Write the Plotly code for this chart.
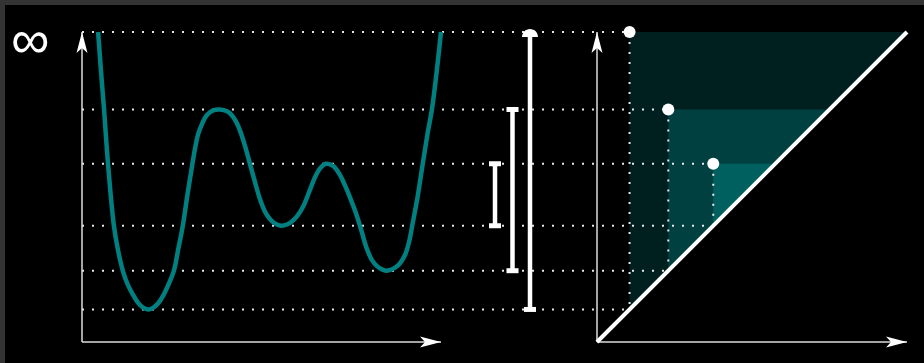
import plotly.graph_objects as go

# ---------------------------------------------------------------
# Height function f(t), sampled along its graph
curve_t = [0.52, 0.61, 0.71, 0.84, 1.03, 1.16, 1.32, 1.48, 1.65, 1.81,
           1.97, 2.13, 2.29, 2.45, 2.61, 2.77, 2.97, 3.10, 3.25, 3.40, 3.56,
           3.65, 3.74, 3.87, 4.03, 4.23, 4.45, 4.68, 4.84, 4.97, 5.10, 5.26,
           5.42, 5.58, 5.74, 5.90, 6.06, 6.23, 6.42, 6.61, 6.77, 6.94, 7.13,
           7.35, 7.52, 7.68, 7.87, 8.10, 8.32, 8.48, 8.65, 8.81, 8.97, 9.18,
           9.35, 9.52, 9.81, 10.16, 10.42, 10.55, 10.65, 10.82, 10.99, 11.14,
           11.29, 11.44, 11.58]
curve_f = [10.0, 8.77, 7.52, 5.74, 3.74, 2.97, 2.29, 1.84, 1.52, 1.26,
           1.11, 1.05, 1.10, 1.24, 1.48, 1.81, 2.32, 2.97, 3.74, 4.74, 5.74,
           6.26, 6.68, 7.03, 7.32, 7.47, 7.50, 7.44, 7.31, 7.11, 6.81, 6.32,
           5.74, 5.16, 4.61, 4.21, 3.97, 3.82, 3.75, 3.79, 3.89, 4.06, 4.36,
           4.90, 5.32, 5.60, 5.75, 5.68, 5.39, 5.06, 4.65, 4.23, 3.74, 3.03,
           2.65, 2.44, 2.30, 2.44, 2.81, 3.23, 3.74, 4.65, 5.74, 6.68,
           7.52, 8.71, 10.0]

# Persistence pairs of the sublevel-set filtration (None = never dies)
births = [1.05, 2.30, 3.75]
deaths = [None, 7.50, 5.75]

# Height at which "infinity" is drawn
INF_LEVEL = 10.0

# ---------------------------------------------------------------
# Canvas geometry (pixels)
W, H = 924, 363
PX = 31.0            # pixels per unit of height
Y0 = 342             # pixel row of height 0
LEFT_X0 = 82         # origin of the function panel
DIAG_X0 = 597        # origin of the persistence diagram
BAR_X0 = 495         # first bar of the barcode
BAR_STEP = 17.5      # spacing between bars

deaths_drawn = [INF_LEVEL if d is None else d for d in deaths]

# function-panel x  ->  diagram x (same pixel scale, shifted origin)
def left_to_diag(u):
    return u + (LEFT_X0 - DIAG_X0) / PX

TEAL = "#008080"
DOT = dict(color="rgba(255,255,255,0.9)", width=2, dash="2px,8px")
AXIS = dict(color="#dcdcdc", width=1.5)
FILLS = ["rgb(0,32,32)", "rgb(0,64,64)", "rgb(0,96,96)"]

fig = go.Figure()

# ---- persistence diagram (base axis "x") ----
order = sorted(range(len(births)), key=lambda i: deaths_drawn[i] - births[i], reverse=True)
for c, i in zip(FILLS, order):
    b, d = births[i], deaths_drawn[i]
    fig.add_trace(go.Scatter(x=[b, b, d, b], y=[b, d, d, b], mode="lines",
                             fill="toself", fillcolor=c, line=dict(width=0),
                             hoverinfo="skip"))

x_start = left_to_diag(0)
for b, d in zip(births, deaths_drawn):
    # level lines running from the function panel to the diagram
    fig.add_trace(go.Scatter(x=[x_start, b], y=[d, d], mode="lines", line=DOT, hoverinfo="skip"))
    fig.add_trace(go.Scatter(x=[x_start, b], y=[b, b], mode="lines", line=DOT, hoverinfo="skip"))
    # drop from the point to the diagonal
    fig.add_trace(go.Scatter(x=[b, b], y=[d, b], mode="lines", line=DOT, hoverinfo="skip"))

fig.add_trace(go.Scatter(x=[0, 0, None, 0, INF_LEVEL], y=[0, INF_LEVEL, None, 0, 0],
                         mode="lines", line=AXIS, hoverinfo="skip"))
fig.add_trace(go.Scatter(x=[0, INF_LEVEL], y=[0, INF_LEVEL], mode="lines",
                         line=dict(color="white", width=4), hoverinfo="skip"))
fig.add_trace(go.Scatter(x=births, y=deaths_drawn, mode="markers",
                         marker=dict(size=12, color="white"), hoverinfo="skip"))

# ---- function panel (axis "x2") ----
fig.add_trace(go.Scatter(x=[0, 0, None, 0, curve_t[-1]], y=[0, INF_LEVEL, None, 0, 0],
                         mode="lines", line=AXIS, xaxis="x2", hoverinfo="skip"))
fig.add_trace(go.Scatter(x=curve_t, y=curve_f, mode="lines", xaxis="x2",
                         line=dict(color=TEAL, width=4.5, shape="spline",
                                   smoothing=1, simplify=False),
                         hoverinfo="skip"))

# ---- barcode (axis "x3"), shortest bar first ----
bar_order = sorted(range(len(births)), key=lambda i: deaths_drawn[i] - births[i])
bx, by, cx, cy = [], [], [], []
for k, i in enumerate(bar_order):
    b, d = births[i], deaths_drawn[i]
    bx += [k, k, None]
    by += [b, d, None]
    cx.append(k)
    cy.append(b)
    if deaths[i] is not None:
        cx.append(k)
        cy.append(d)
fig.add_trace(go.Scatter(x=bx, y=by, mode="lines", xaxis="x3",
                         line=dict(color="white", width=4.5), hoverinfo="skip"))
fig.add_trace(go.Scatter(x=cx, y=cy, mode="markers", xaxis="x3", hoverinfo="skip",
                         marker=dict(symbol="line-ew", size=8.6, color="white",
                                     line=dict(color="white", width=5))))

# ---- arrowheads and the open end of the infinite bar ----
UP = "M0,0 L-5.5,-21 L0,-16 L5.5,-21 Z"
RIGHT = "M0,0 L-21,5.5 L-16,0 L-21,-5.5 Z"
DOME = "M-8,-5 C-8,-0.58 -4.42,3 0,3 C4.42,3 8,-0.58 8,-5 Z"

def head(path, xref, xa, ya):
    return dict(type="path", path=path, xref=xref, yref="y",
                xsizemode="pixel", ysizemode="pixel", xanchor=xa, yanchor=ya,
                fillcolor="white", line=dict(width=0), layer="above")

shapes = [
    head(UP, "x2", 0, INF_LEVEL),
    head(RIGHT, "x2", curve_t[-1], 0),
    head(UP, "x", 0, INF_LEVEL),
    head(RIGHT, "x", INF_LEVEL, 0),
    head(DOME, "x3", len(births) - 1, INF_LEVEL),
    # frame
    dict(type="rect", xref="paper", yref="paper", x0=0, x1=5 / W, y0=0, y1=1,
         fillcolor="#333333", line=dict(width=0), layer="above"),
    dict(type="rect", xref="paper", yref="paper", x0=0, x1=1, y0=1 - 5 / H, y1=1,
         fillcolor="#333333", line=dict(width=0), layer="above"),
]

hidden = dict(visible=False, showgrid=False, zeroline=False, fixedrange=True)
fig.update_layout(
    width=W, height=H,
    margin=dict(l=0, r=0, t=0, b=0),
    paper_bgcolor="black", plot_bgcolor="black",
    showlegend=False,
    xaxis=dict(range=[-DIAG_X0 / PX, (W - DIAG_X0) / PX], domain=[0, 1], **hidden),
    xaxis2=dict(range=[-LEFT_X0 / PX, (W - LEFT_X0) / PX], overlaying="x",
                anchor="y", **hidden),
    xaxis3=dict(range=[-BAR_X0 / BAR_STEP, (W - BAR_X0) / BAR_STEP], overlaying="x",
                anchor="y", **hidden),
    yaxis=dict(range=[(Y0 - H) / PX, Y0 / PX], domain=[0, 1], **hidden),
    shapes=shapes,
    annotations=[dict(text="∞", xref="paper", yref="paper",
                      x=30.5 / W, y=1 - 39 / H, xanchor="center", yanchor="middle",
                      showarrow=False,
                      font=dict(family="Liberation Sans", size=54, color="white"))],
)

fig.write_html("out.html")
